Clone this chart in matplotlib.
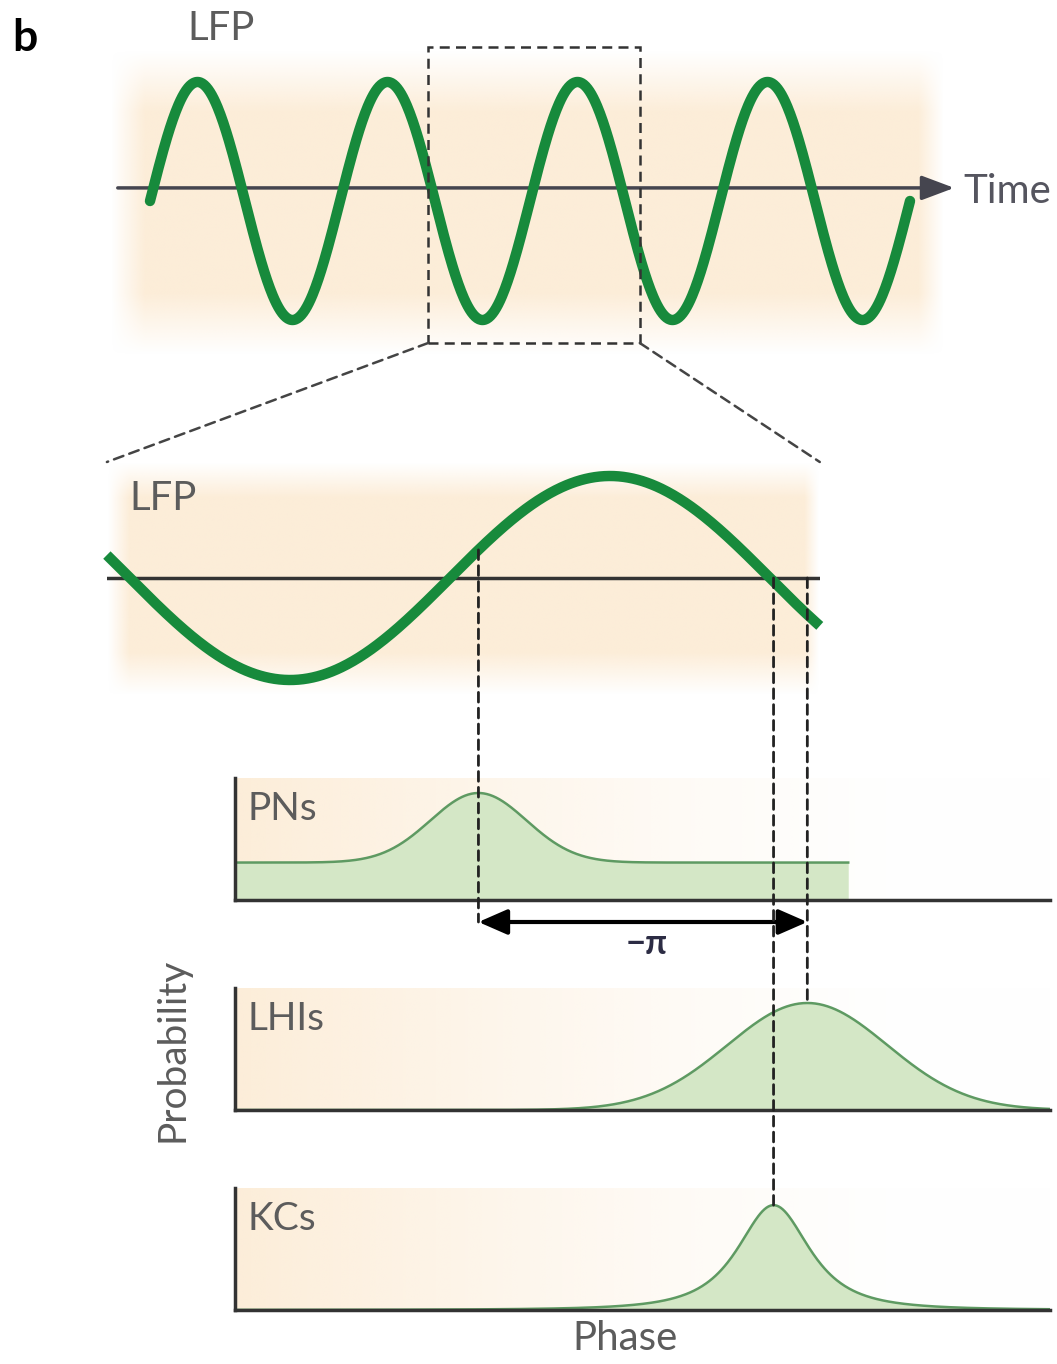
import matplotlib.pyplot as plt
import numpy as np
from matplotlib.patches import ConnectionPatch, Rectangle
from matplotlib.colors import to_rgb

plt.rcParams['font.family'] = ['Lato', 'DejaVu Sans']

# ---- schematic values ----
n_cycles = 4                 # cycles of LFP shown in the top trace
lfp_axis_level = 0.11        # time axis sits slightly above the wave centre
zoom_window = [167, 568]     # phase (deg) covered by the zoomed LFP
cells = ['PNs', 'LHIs', 'KCs']
peak_phase = [376, 561, 542]      # deg
peak_width = [27, 45, 31]         # deg
peak_height = [0.65, 1.0, 0.98]
baseline = [0.35, 0.0, 0.0]
shape = ['gauss', 'gauss', 'sharp']
pn_phase_end = 584
arrow_phase = [376, 561]
arrow_label = '\u2212\u03c0'

# colours
green = '#178a3c'
peach = to_rgb('#fce9cf')
fill_green = '#d4e7c6'
line_green = '#5e9a62'
label_grey = '#5c5c5c'
axis_col = '#333333'

W, H = 1057, 1364
fig = plt.figure(figsize=(W / 100, H / 100), dpi=100)


def box(x0, y0, x1, y1):
    # axes placed by pixel box (y from the top)
    return fig.add_axes([x0 / W, 1 - y1 / H, (x1 - x0) / W, (y1 - y0) / H])


def phase_px(x):
    # horizontal phase scale shared by the zoom and the histograms
    return 270 + (x - 290) * 360 / 640


def background(ax, xlim, ylim, alpha):
    img = np.zeros(alpha.shape + (4,))
    img[..., :3] = peach
    img[..., 3] = alpha
    ax.imshow(img, extent=[xlim[0], xlim[1], ylim[0], ylim[1]], origin='lower',
              aspect='auto', interpolation='bilinear', zorder=0)
    ax.set_xlim(xlim)
    ax.set_ylim(ylim)


def ramp(n, a, b):
    s = np.linspace(0, 1, n)
    return np.clip(np.minimum(s / a, (1 - s) / b), 0, 1)


# ---- top LFP trace ----
ax_top = box(110, 50, 945, 355)
xl = [(110 - 150) / 190, (945 - 150) / 190]
yl = [(201 - 355) / 119, (201 - 50) / 119]
alpha = np.outer(ramp(200, 0.2, 0.2), ramp(300, 0.04, 0.03)) * 0.8
background(ax_top, xl, yl, alpha)
ax_top.axis('off')

t = np.linspace(0, n_cycles, 800)
ax_top.annotate('', xy=((957 - 150) / 190, lfp_axis_level),
                xytext=((115 - 150) / 190, lfp_axis_level),
                arrowprops=dict(arrowstyle='-|>,head_length=0.8,head_width=0.3',
                                lw=2.5, color='#45454f', mutation_scale=25),
                annotation_clip=False, zorder=2)
ax_top.plot(t, np.sin(2 * np.pi * t), color=green, lw=7.5, zorder=3,
            solid_capstyle='round', clip_on=False)
ax_top.text((963 - 150) / 190, lfp_axis_level - 0.03, 'Time', fontsize=29,
            color='#55555f', va='center', ha='left')

# dashed box marking the zoomed window
t0 = (zoom_window[0] + 360) / 360
t1 = (zoom_window[1] + 360) / 360
box_y = [(201 - 343) / 119, (201 - 47) / 119]
ax_top.add_patch(Rectangle((t0, box_y[0]), t1 - t0, box_y[1] - box_y[0], fill=False,
                           ls=(0, (4, 2.5)), lw=1.8, ec=axis_col, clip_on=False, zorder=4))

fig.text(12 / W, 1 - 38 / H, 'b', fontsize=32, fontweight='bold', va='center')
fig.text(187 / W, 1 - 28 / H, 'LFP', fontsize=29, color=label_grey, va='center')

# ---- zoomed LFP ----
ax_zoom = box(107, 462, 820, 695)
xl = [phase_px(107), phase_px(820)]
yl = [(578 - 695) / 102, (578 - 462) / 102]
alpha = np.outer(ramp(200, 0.18, 0.15), ramp(300, 0.03, 0.02)) * 0.8
background(ax_zoom, xl, yl, alpha)
ax_zoom.axis('off')
ph = np.linspace(zoom_window[0], zoom_window[1], 600)
ax_zoom.plot([zoom_window[0], zoom_window[1]], [0, 0], color=axis_col, lw=2.5, zorder=2)
ax_zoom.plot(ph, np.sin(np.radians(ph)), color=green, lw=7.5, zorder=3,
             solid_capstyle='butt', clip_on=False)
ax_zoom.text(phase_px(129), (578 - 498) / 102, 'LFP', fontsize=29,
             color=label_grey, va='center')

for xa in (t0, t1):
    xb = zoom_window[0] if xa == t0 else zoom_window[1]
    con = ConnectionPatch(xyA=(xa, box_y[0]), coordsA=ax_top.transData,
                          xyB=(xb, yl[1]), coordsB=ax_zoom.transData,
                          ls=(0, (4, 2.5)), lw=1.8, color='#444444')
    fig.add_artist(con)

# ---- phase histograms ----
hist_tops = [778, 988, 1188]
axes = []
xl = [phase_px(235), phase_px(1050)]
for i, name in enumerate(cells):
    top = hist_tops[i]
    ax = box(235, top, 1050, top + 122)
    yl = [0, 122 / 107]
    alpha = np.outer(np.ones(100), np.clip(1 - np.linspace(0, 1.15, 300), 0.03, 1) ** 1.4) * 0.8
    background(ax, xl, yl, alpha)
    for s in ('top', 'right'):
        ax.spines[s].set_visible(False)
    for s in ('left', 'bottom'):
        ax.spines[s].set_linewidth(2.5)
        ax.spines[s].set_color(axis_col)
        ax.spines[s].set_zorder(5)
    ax.set_xticks([])
    ax.set_yticks([])

    end = pn_phase_end if i == 0 else xl[1]
    p = np.linspace(xl[0], end, 800)
    d = (p - peak_phase[i]) / peak_width[i]
    if shape[i] == 'gauss':
        prob = baseline[i] + peak_height[i] * np.exp(-0.5 * d ** 2)
    else:
        prob = baseline[i] + peak_height[i] * (1 + d ** 2) ** -1.5
    ax.fill_between(p, 0, prob, color=fill_green, lw=0, zorder=2)
    ax.plot(p, prob, color=line_green, lw=1.8, zorder=3)
    ax.text(phase_px(247), (122 - 31) / 107, name, fontsize=28,
            color=label_grey, va='center')
    axes.append(ax)

ax_pn, ax_lhi, ax_kc = axes

# dashed drop lines from the LFP to the peaks
dash = dict(ls=(0, (3.5, 2.2)), lw=2, color='#222222', zorder=6)
arrow_y = -22 / 107
fig.add_artist(ConnectionPatch(xyA=(peak_phase[0], np.sin(np.radians(peak_phase[0]))),
                               coordsA=ax_zoom.transData, xyB=(peak_phase[0], arrow_y),
                               coordsB=ax_pn.transData, **dash))
fig.add_artist(ConnectionPatch(xyA=(peak_phase[2], 0), coordsA=ax_zoom.transData,
                               xyB=(peak_phase[2], baseline[2] + peak_height[2]),
                               coordsB=ax_kc.transData, **dash))
fig.add_artist(ConnectionPatch(xyA=(peak_phase[1], 0), coordsA=ax_zoom.transData,
                               xyB=(peak_phase[1], baseline[1] + peak_height[1]),
                               coordsB=ax_lhi.transData, **dash))

ax_pn.annotate('', xy=(arrow_phase[1], arrow_y), xytext=(arrow_phase[0], arrow_y),
               arrowprops=dict(arrowstyle='<|-|>,head_length=0.8,head_width=0.35',
                               lw=3, color='black', mutation_scale=22,
                               shrinkA=0, shrinkB=0),
               annotation_clip=False)
ax_pn.text(np.mean(arrow_phase) + 2, -44 / 107, arrow_label, fontsize=25,
           fontweight='bold', color='#2c2c44', ha='center', va='center')

fig.text(172 / W, 1 - 1050 / H, 'Probability', fontsize=28, color=label_grey,
         rotation=90, ha='center', va='center')
fig.text(625 / W, 1 - 1338 / H, 'Phase', fontsize=29, color=label_grey,
         ha='center', va='center')

fig.savefig('out.png', dpi=100)
